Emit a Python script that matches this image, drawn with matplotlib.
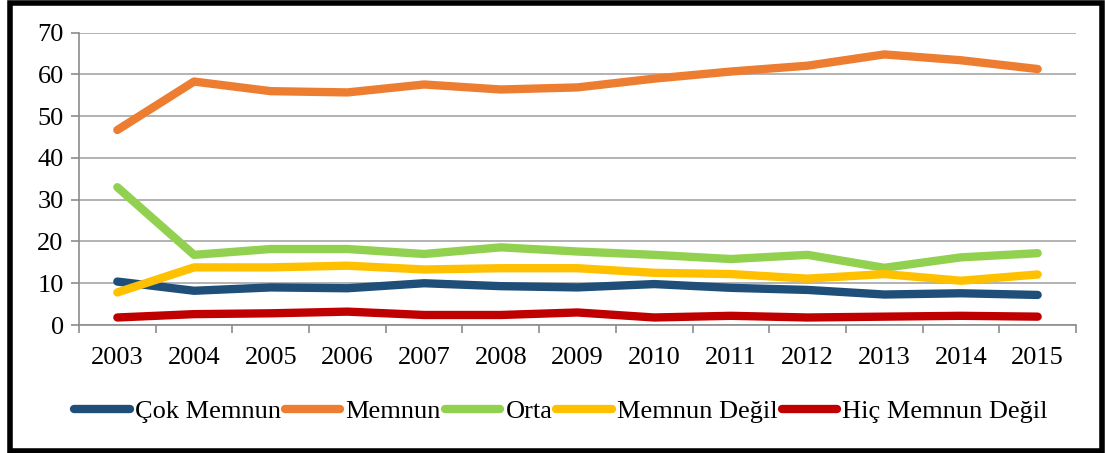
import matplotlib
matplotlib.use("Agg")
import matplotlib.pyplot as plt
from matplotlib.patches import Rectangle

years = ["2003", "2004", "2005", "2006", "2007", "2008", "2009",
         "2010", "2011", "2012", "2013", "2014", "2015"]
cok_memnun = [10.4, 8.2, 9.0, 8.8, 10.0, 9.3, 9.0, 9.8, 8.9, 8.4, 7.3, 7.6, 7.2]
memnun = [46.7, 58.3, 56.0, 55.7, 57.6, 56.4, 56.9, 59.0, 60.7, 62.1, 64.8, 63.4, 61.3]
orta = [33.0, 16.8, 18.2, 18.2, 17.0, 18.6, 17.6, 16.8, 15.8, 16.8, 13.7, 16.2, 17.2]
memnun_degil = [7.8, 13.8, 13.8, 14.2, 13.3, 13.6, 13.6, 12.5, 12.2, 11.1, 12.2, 10.6, 12.1]
hic_memnun_degil = [1.8, 2.6, 2.8, 3.2, 2.4, 2.4, 3.0, 1.8, 2.2, 1.8, 2.0, 2.2, 2.0]

series_names = ["Çok Memnun", "Memnun", "Orta", "Memnun Değil", "Hiç Memnun Değil"]
series_values = [cok_memnun, memnun, orta, memnun_degil, hic_memnun_degil]
colors = ["#1F4E79", "#ED7D31", "#92D050", "#FFC000", "#C00000"]
yticks = [0, 10, 20, 30, 40, 50, 60, 70]

plt.rcParams['font.family'] = ['Liberation Serif', 'DejaVu Serif']

W, H = 1105, 453
fig = plt.figure(figsize=(W / 100, H / 100), dpi=100)
ax = fig.add_axes([79 / W, 1 - 325 / H, (1076 - 79) / W, (325 - 32.7) / H])

x = list(range(len(years)))
lines = []
for name, vals, c in zip(series_names, series_values, colors):
    ln, = ax.plot(x, vals, color=c, lw=6, solid_capstyle='round',
                  solid_joinstyle='round', label=name, zorder=3)
    lines.append(ln)

ax.set_xlim(-0.5, len(years) - 0.5)
ax.set_ylim(0, 70)
ax.set_yticks(yticks)
ax.set_yticklabels([str(v) for v in yticks])
ax.yaxis.grid(True, color="#A6A6A6", lw=1.2)
ax.set_axisbelow(True)

ax.set_xticks([i - 0.5 for i in range(len(years) + 1)])
ax.set_xticklabels([])
ax.set_xticks(x, minor=True)
ax.set_xticklabels(years, minor=True)
ax.tick_params(axis='x', which='major', length=6, color="#8C8C8C", width=1.2)
ax.tick_params(axis='x', which='minor', length=0, pad=16, labelsize=19)
ax.tick_params(axis='y', length=6, color="#8C8C8C", width=1.2, pad=5, labelsize=19)

for s in ["top", "right"]:
    ax.spines[s].set_visible(False)
for s in ["left", "bottom"]:
    ax.spines[s].set_color("#8C8C8C")
    ax.spines[s].set_linewidth(1.2)

leg = fig.legend(handles=lines, labels=series_names, loc='center',
                 bbox_to_anchor=(561 / W, 1 - 411 / H), ncol=5, frameon=False,
                 fontsize=19, handlelength=2.1, handletextpad=0.2,
                 columnspacing=0.15, borderaxespad=0)
for h in leg.get_lines():
    h.set_linewidth(6)
    h.set_solid_capstyle('round')

# outer black frame
fig.patches.append(Rectangle((10 / W, 2 / H), (1102 - 10) / W, (450 - 2) / H,
                             transform=fig.transFigure, fill=False,
                             edgecolor="black", lw=4))

fig.savefig("out.png", dpi=100)
